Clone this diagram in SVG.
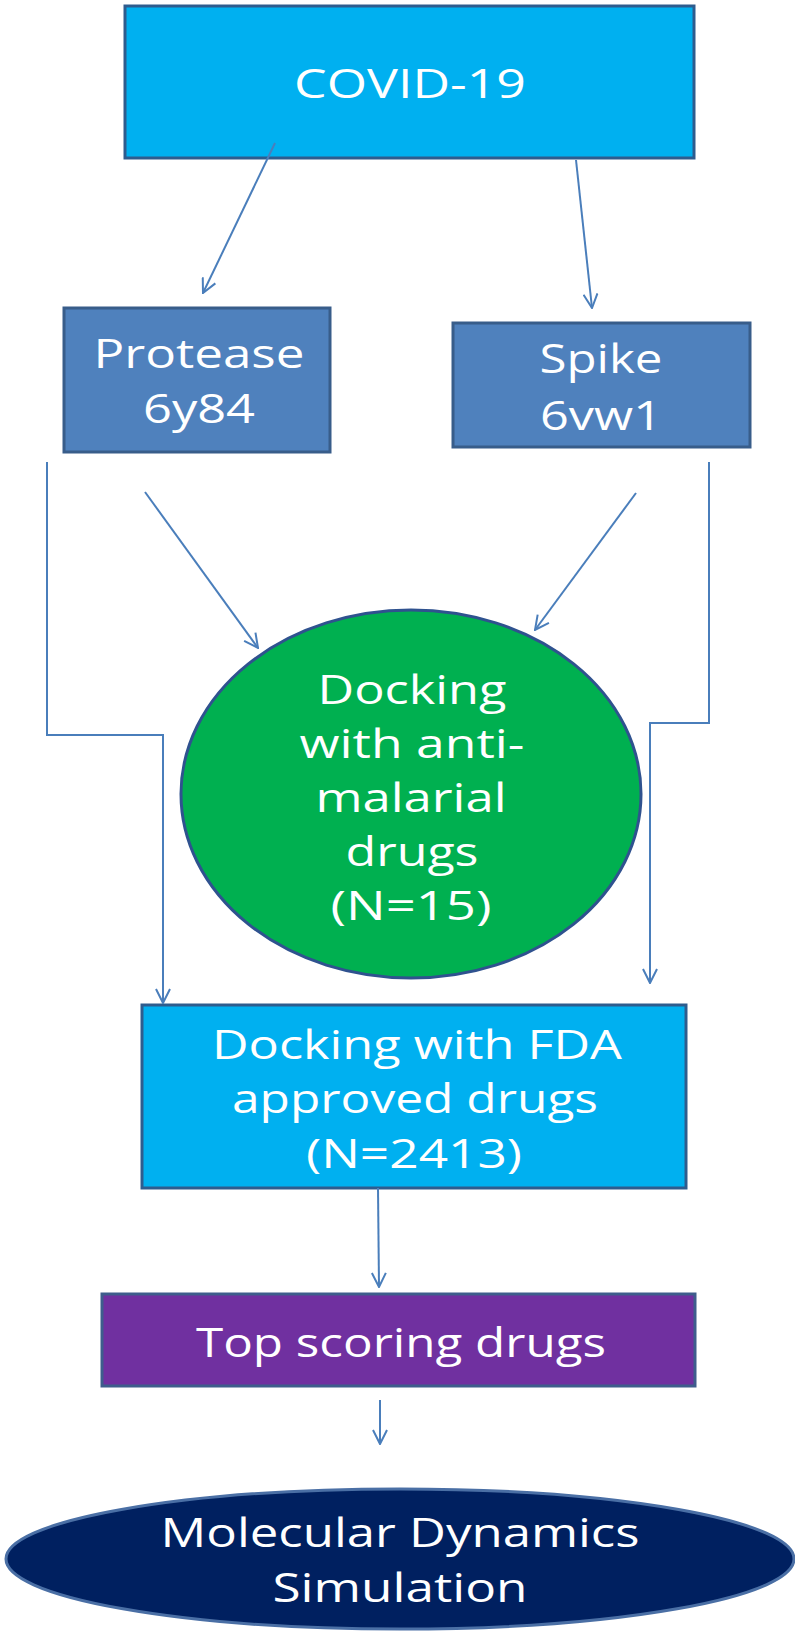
<svg xmlns="http://www.w3.org/2000/svg" width="795" height="1634" viewBox="0 0 795 1634">
<style>
.t{font-family:"Open Sans","Liberation Sans",sans-serif;font-size:40px;fill:#ffffff;text-anchor:middle}
.c{fill:none;stroke:#4A7EBB;stroke-width:2}
</style>
<defs>
<marker id="ah" viewBox="0 0 16 16" markerWidth="16" markerHeight="16" refX="15" refY="8" orient="auto" markerUnits="userSpaceOnUse">
<path d="M1,1 L15,8 L1,15" fill="none" stroke="#4A7EBB" stroke-width="2"/>
</marker>
</defs>
<rect width="795" height="1634" fill="#ffffff"/>
<g id="covid">
<rect x="125" y="6" width="569" height="152" fill="#00B0F0" stroke="#2E5C8E" stroke-width="3"/>
<text class="t" x="410" y="98" textLength="232" lengthAdjust="spacingAndGlyphs">COVID-19</text>
</g>
<g id="protease">
<rect x="64" y="308" width="266" height="144" fill="#4F81BD" stroke="#385D8A" stroke-width="3"/>
<text class="t" x="199" y="368" font-size="42" textLength="211" lengthAdjust="spacingAndGlyphs">Protease</text>
<text class="t" x="199" y="423" font-size="42" textLength="112" lengthAdjust="spacingAndGlyphs">6y84</text>
</g>
<g id="spike">
<rect x="453" y="323" width="297" height="124" fill="#4F81BD" stroke="#385D8A" stroke-width="3"/>
<text class="t" x="601" y="373" textLength="123" lengthAdjust="spacingAndGlyphs">Spike</text>
<text class="t" x="601" y="430" textLength="122" lengthAdjust="spacingAndGlyphs">6vw1</text>
</g>
<g id="docking-antimalarial">
<ellipse cx="411" cy="794" rx="230" ry="184" fill="#00B050" stroke="#2F528F" stroke-width="3"/>
<text class="t" x="412" y="704" textLength="189" lengthAdjust="spacingAndGlyphs">Docking</text>
<text class="t" x="412" y="758" textLength="225" lengthAdjust="spacingAndGlyphs">with anti-</text>
<text class="t" x="411" y="812" textLength="191" lengthAdjust="spacingAndGlyphs">malarial</text>
<text class="t" x="412" y="866" textLength="133" lengthAdjust="spacingAndGlyphs">drugs</text>
<text class="t" x="411" y="920" textLength="161" lengthAdjust="spacingAndGlyphs">(N=15)</text>
</g>
<g id="docking-fda">
<rect x="142" y="1005" width="544" height="183" fill="#00B0F0" stroke="#2E5C8E" stroke-width="3"/>
<text class="t" x="417" y="1059" textLength="410" lengthAdjust="spacingAndGlyphs">Docking with FDA</text>
<text class="t" x="415" y="1113" textLength="366" lengthAdjust="spacingAndGlyphs">approved drugs</text>
<text class="t" x="414" y="1168" textLength="216" lengthAdjust="spacingAndGlyphs">(N=2413)</text>
</g>
<g id="top-scoring">
<rect x="102" y="1294" width="593" height="92" fill="#7030A0" stroke="#3E5D8C" stroke-width="3"/>
<text class="t" x="401" y="1357" textLength="410" lengthAdjust="spacingAndGlyphs">Top scoring drugs</text>
</g>
<g id="md-simulation">
<ellipse cx="400" cy="1559" rx="394" ry="70" fill="#002060" stroke="#4A6FA5" stroke-width="3"/>
<text class="t" x="400" y="1547" textLength="479" lengthAdjust="spacingAndGlyphs">Molecular Dynamics</text>
<text class="t" x="400" y="1602" textLength="255" lengthAdjust="spacingAndGlyphs">Simulation</text>
</g>
<g id="connectors">
<line class="c" x1="275" y1="143" x2="203" y2="293" marker-end="url(#ah)"/>
<line class="c" x1="576" y1="160" x2="592" y2="308" marker-end="url(#ah)"/>
<line class="c" x1="145" y1="492" x2="258" y2="648" marker-end="url(#ah)"/>
<line class="c" x1="636" y1="493" x2="535" y2="630" marker-end="url(#ah)"/>
<polyline class="c" points="47,462 47,735 163,735 163,1003" marker-end="url(#ah)"/>
<polyline class="c" points="709,462 709,723 650,723 650,983" marker-end="url(#ah)"/>
<line class="c" x1="378" y1="1188" x2="379" y2="1287" marker-end="url(#ah)"/>
<line class="c" x1="380" y1="1400" x2="380" y2="1444" marker-end="url(#ah)"/>
</g>
</svg>
